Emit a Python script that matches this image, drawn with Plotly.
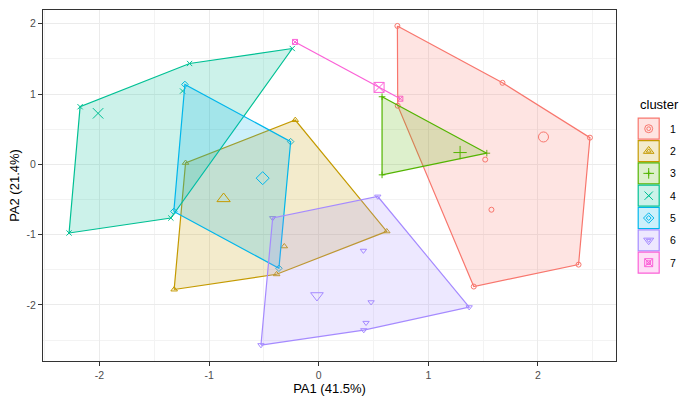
import plotly.graph_objects as go

# ---------------- data ----------------
cluster_names = ["1", "2", "3", "4", "5", "6", "7"]

c1_x = [0.718, 1.677, 2.475, 0.721, 1.519, 1.576, 1.415, 2.371]
c1_y = [1.969, 1.160, 0.380, 0.834, 0.068, -0.645, -1.738, -1.426]
c2_x = [-0.214, -1.215, -1.319, -0.384, -0.314, 0.621]
c2_y = [0.631, 0.021, -1.780, -1.563, -1.166, -0.953]
c3_x = [0.578, 1.534, 0.578]
c3_y = [0.962, 0.159, -0.149]
c4_x = [-2.177, -1.178, -0.241, -1.242, -2.278, -1.349]
c4_y = [0.820, 1.435, 1.648, 1.043, -0.976, -0.763]
c5_x = [-1.221, -0.256, -0.363, -1.322]
c5_y = [1.137, 0.324, -1.478, -0.669]
c6_x = [-0.420, -0.527, 0.539, 1.373, 0.408, 0.478, 0.432, 0.411]
c6_y = [-0.763, -2.570, -0.457, -2.031, -1.227, -1.960, -2.253, -2.357]
c7_x = [-0.216, 0.745]
c7_y = [1.742, 0.934]

centroid_x = [2.051, -0.868, 1.290, -2.013, -0.511, -0.016, 0.551]
centroid_y = [0.390, -0.489, 0.168, 0.726, -0.196, -1.865, 1.095]

x_ticks = [-2, -1, 0, 1, 2]
y_ticks = [-2, -1, 0, 1, 2]
x_title = "PA1 (41.5%)"
y_title = "PA2 (21.4%)"
legend_title = "cluster"

# ---------------- style ----------------
colors = ["#F8766D", "#C49A00", "#53B400", "#00C094", "#00B6EB", "#A58AFF", "#FB61D7"]
symbols = ["circle-open", "triangle-up-open", "cross-thin-open", "x-thin-open",
           "diamond-open", "triangle-down-open", "square-x-open"]
sym_scale = [1.0, 1.15, 0.95, 1.05, 1.0, 1.1, 1.0]
SMALL = 5
BIG = 10
FONT = "Liberation Sans, Arial, sans-serif"

W, H = 681, 396
ML, MR, MT, MB = 43, 0, 10, 35
PANEL_RIGHT = 616
plot_w = W - ML - MR
main_dom = (PANEL_RIGHT - ML) / plot_w
leg_dom0 = 0.905


def rgba(hexc, a):
    h = hexc.lstrip("#")
    r, g, b = int(h[0:2], 16), int(h[2:4], 16), int(h[4:6], 16)
    return f"rgba({r},{g},{b},{a})"


def hull(xs, ys):
    pts = sorted(set(zip(xs, ys)))
    if len(pts) <= 2:
        return [p[0] for p in pts], [p[1] for p in pts]

    def cross(o, a, b):
        return (a[0] - o[0]) * (b[1] - o[1]) - (a[1] - o[1]) * (b[0] - o[0])

    lower, upper = [], []
    for p in pts:
        while len(lower) >= 2 and cross(lower[-2], lower[-1], p) <= 0:
            lower.pop()
        lower.append(p)
    for p in reversed(pts):
        while len(upper) >= 2 and cross(upper[-2], upper[-1], p) <= 0:
            upper.pop()
        upper.append(p)
    h = lower[:-1] + upper[:-1]
    h.append(h[0])
    return [p[0] for p in h], [p[1] for p in h]


clusters = [(c1_x, c1_y), (c2_x, c2_y), (c3_x, c3_y), (c4_x, c4_y),
            (c5_x, c5_y), (c6_x, c6_y), (c7_x, c7_y)]

fig = go.Figure()

# points
for i, (xs, ys) in enumerate(clusters):
    fig.add_trace(go.Scatter(
        x=xs, y=ys, mode="markers", showlegend=False, hoverinfo="skip",
        marker=dict(symbol=symbols[i], size=SMALL * sym_scale[i], color=colors[i],
                    line=dict(width=1, color=colors[i]))))

# convex hulls
for i, (xs, ys) in enumerate(clusters):
    hx, hy = hull(xs, ys)
    fig.add_trace(go.Scatter(
        x=hx, y=hy, mode="lines", fill="toself" if len(hx) > 2 else "none",
        fillcolor=rgba(colors[i], 0.2), line=dict(color=colors[i], width=1.2),
        showlegend=False, hoverinfo="skip"))

# centroids
for i in range(len(cluster_names)):
    fig.add_trace(go.Scatter(
        x=[centroid_x[i]], y=[centroid_y[i]], mode="markers", showlegend=False,
        hoverinfo="skip",
        marker=dict(symbol=symbols[i], size=BIG * sym_scale[i], color=colors[i],
                    line=dict(width=1, color=colors[i]))))

# ---------------- manual legend (pixel coordinates on a hidden axis) ----------------
leg_x0 = ML + leg_dom0 * plot_w
key_cx = 648.7
key_half = 10.5
key_y0 = 128.7
key_step = 22.33
shapes = []
annotations = []
for i, name in enumerate(cluster_names):
    cy = key_y0 + i * key_step
    shapes.append(dict(type="rect", xref="x2", yref="y2",
                       x0=key_cx - key_half, x1=key_cx + key_half,
                       y0=cy - key_half, y1=cy + key_half,
                       fillcolor=rgba(colors[i], 0.2), line=dict(color=colors[i], width=1.2),
                       layer="below"))
    for s in (SMALL * 0.75, BIG * 0.8):
        fig.add_trace(go.Scatter(
            x=[key_cx], y=[cy], xaxis="x2", yaxis="y2", mode="markers",
            showlegend=False, hoverinfo="skip",
            marker=dict(symbol=symbols[i], size=s * sym_scale[i], color=colors[i],
                        line=dict(width=1, color=colors[i]))))
    annotations.append(dict(x=667.5, y=cy, xref="x2", yref="y2", text=name,
                            showarrow=False, xanchor="left", yanchor="middle",
                            font=dict(family=FONT, size=10.5, color="#000000")))
annotations.append(dict(x=637.5, y=104, xref="x2", yref="y2", text=legend_title,
                        showarrow=False, xanchor="left", yanchor="middle",
                        font=dict(family=FONT, size=13, color="#000000")))

# axis ranges with ggplot-style 5% expansion
all_x = [v for xs, _ in clusters for v in xs] + centroid_x
all_y = [v for _, ys in clusters for v in ys] + centroid_y
xr = max(all_x) - min(all_x)
yr = max(all_y) - min(all_y)
x_range = [min(all_x) - 0.05 * xr, max(all_x) + 0.05 * xr]
y_range = [min(all_y) - 0.05 * yr, max(all_y) + 0.05 * yr]

axis_common = dict(
    showgrid=True, gridcolor="#EBEBEB", gridwidth=1.1, zeroline=False,
    showline=True, mirror=True, linecolor="#333333", linewidth=1,
    ticks="outside", ticklen=4, tickwidth=1, tickcolor="#333333",
    tickfont=dict(family=FONT, size=10.5, color="#4D4D4D"),
    minor=dict(dtick=0.5, tick0=0, showgrid=True, gridcolor="#F3F3F3", gridwidth=0.6, ticks=""),
    automargin=False,
)

fig.update_layout(
    width=W, height=H,
    margin=dict(l=ML, r=MR, t=MT, b=MB, pad=0, autoexpand=False),
    paper_bgcolor="white", plot_bgcolor="white",
    showlegend=False,
    font=dict(family=FONT),
    xaxis=dict(axis_common, domain=[0, main_dom], range=x_range, tickvals=x_ticks,
               ticktext=[str(v) for v in x_ticks],
               title=dict(text=x_title, standoff=2, font=dict(family=FONT, size=13, color="#000000"))),
    yaxis=dict(axis_common, range=y_range, tickvals=y_ticks,
               ticktext=[str(v) for v in y_ticks],
               title=dict(text=y_title, standoff=4, font=dict(family=FONT, size=13, color="#000000"))),
    xaxis2=dict(domain=[leg_dom0, 1], range=[leg_x0, W], visible=False, anchor="y2",
                fixedrange=True),
    yaxis2=dict(domain=[0, 1], range=[H - MB, MT], visible=False, anchor="x2",
                fixedrange=True),
    shapes=shapes,
    annotations=annotations,
)

fig.write_html(
    "out.html",
    config={"displayModeBar": False},
    post_script="document.body.style.margin='0';document.body.style.overflow='hidden';",
)
